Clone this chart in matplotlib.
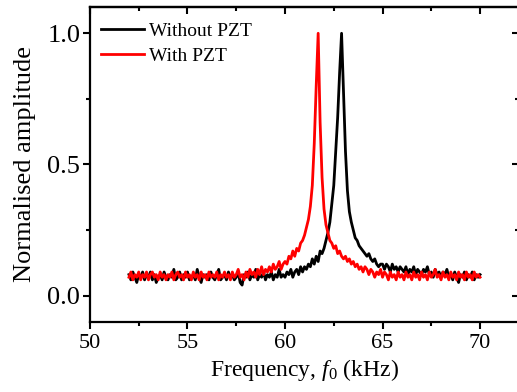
import numpy as np
import matplotlib
matplotlib.use("Agg")
import matplotlib.pyplot as plt
from matplotlib.ticker import MultipleLocator

plt.rcParams['font.family'] = ['Liberation Serif', 'DejaVu Serif']
plt.rcParams['mathtext.fontset'] = 'custom'
plt.rcParams['mathtext.it'] = 'Liberation Serif:italic'
plt.rcParams['mathtext.rm'] = 'Liberation Serif'

# frequency grid (kHz), 52.0 .. 70.0 in 0.1 steps
freq = np.round(np.linspace(52.0, 70.0, 181), 1)

# Without PZT (black)
without_pzt = [
    0.08, 0.06, 0.09, 0.07, 0.05, 0.08, 0.07, 0.09, 0.06, 0.08,
    0.07, 0.09, 0.06, 0.08, 0.05, 0.07, 0.08, 0.06, 0.09, 0.07,
    0.06, 0.08, 0.07, 0.10, 0.06, 0.07, 0.09, 0.06, 0.08, 0.07,
    0.09, 0.06, 0.07, 0.08, 0.06, 0.10, 0.07, 0.05, 0.08, 0.07,
    0.08, 0.06, 0.09, 0.07, 0.06, 0.08, 0.10, 0.06, 0.07, 0.08,
    0.06, 0.09, 0.07, 0.08, 0.06, 0.07, 0.09, 0.05, 0.04, 0.08,
    0.07, 0.09, 0.06, 0.08, 0.07, 0.10, 0.06, 0.08, 0.07, 0.09,
    0.06, 0.08, 0.07, 0.09, 0.06, 0.08, 0.07, 0.10, 0.07, 0.08,
    0.07, 0.09, 0.08, 0.10, 0.07, 0.09, 0.10, 0.08, 0.11, 0.09,
    0.11, 0.10, 0.12, 0.11, 0.14, 0.12, 0.15, 0.13, 0.17, 0.16,
    0.18, 0.21, 0.24, 0.28, 0.35, 0.42, 0.55, 0.68, 0.85, 1.00,
    0.78, 0.55, 0.40, 0.32, 0.28, 0.25, 0.22, 0.21, 0.19, 0.18,
    0.17, 0.16, 0.15, 0.16, 0.14, 0.13, 0.14, 0.12, 0.11, 0.12,
    0.12, 0.10, 0.12, 0.11, 0.09, 0.12, 0.10, 0.11, 0.09, 0.11,
    0.10, 0.09, 0.11, 0.08, 0.10, 0.09, 0.11, 0.08, 0.10, 0.09,
    0.08, 0.10, 0.09, 0.11, 0.08, 0.09, 0.07, 0.10, 0.08, 0.09,
    0.07, 0.09, 0.08, 0.10, 0.07, 0.08, 0.06, 0.09, 0.07, 0.05,
    0.08, 0.07, 0.09, 0.06, 0.08, 0.07, 0.09, 0.06, 0.08, 0.07,
    0.08,
]

# With PZT (red)
with_pzt = [
    0.07, 0.09, 0.06, 0.08, 0.07, 0.09, 0.06, 0.08, 0.07, 0.09,
    0.06, 0.08, 0.09, 0.07, 0.08, 0.06, 0.09, 0.07, 0.08, 0.06,
    0.08, 0.07, 0.09, 0.06, 0.08, 0.09, 0.07, 0.08, 0.06, 0.09,
    0.07, 0.08, 0.06, 0.09, 0.07, 0.08, 0.06, 0.09, 0.07, 0.08,
    0.06, 0.09, 0.07, 0.08, 0.07, 0.09, 0.06, 0.08, 0.07, 0.09,
    0.07, 0.08, 0.06, 0.09, 0.07, 0.08, 0.10, 0.07, 0.08, 0.06,
    0.09, 0.07, 0.10, 0.08, 0.09, 0.07, 0.10, 0.08, 0.11, 0.08,
    0.10, 0.09, 0.11, 0.09, 0.12, 0.10, 0.11, 0.13, 0.10, 0.12,
    0.13, 0.12, 0.15, 0.14, 0.17, 0.15, 0.18, 0.17, 0.20, 0.21,
    0.23, 0.26, 0.29, 0.34, 0.42, 0.58, 0.80, 1.00, 0.66, 0.45,
    0.33, 0.27, 0.24, 0.21, 0.20, 0.18, 0.19, 0.16, 0.17, 0.15,
    0.14, 0.15, 0.13, 0.14, 0.12, 0.13, 0.11, 0.12, 0.10, 0.11,
    0.09, 0.11, 0.10, 0.08, 0.10, 0.09, 0.07, 0.09, 0.08, 0.10,
    0.07, 0.09, 0.08, 0.06, 0.09, 0.07, 0.08, 0.06, 0.09, 0.07,
    0.08, 0.06, 0.09, 0.07, 0.08, 0.06, 0.09, 0.07, 0.08, 0.06,
    0.09, 0.07, 0.08, 0.06, 0.09, 0.07, 0.08, 0.10, 0.07, 0.08,
    0.06, 0.09, 0.07, 0.08, 0.06, 0.09, 0.07, 0.08, 0.06, 0.09,
    0.07, 0.08, 0.06, 0.09, 0.07, 0.08, 0.06, 0.09, 0.07, 0.08,
    0.07,
]

fig = plt.figure(figsize=(5.17, 3.92), dpi=100)
ax = fig.add_axes([0.174, 0.179, 0.830, 0.803])

ax.plot(freq, without_pzt, color='black', lw=2.0, label='Without PZT')
ax.plot(freq, with_pzt, color='red', lw=2.0, label='With PZT')

ax.set_xlim(50, 72)
ax.set_ylim(-0.1, 1.1)
ax.xaxis.set_major_locator(MultipleLocator(5))
ax.xaxis.set_minor_locator(MultipleLocator(2.5))
ax.yaxis.set_major_locator(MultipleLocator(0.5))
ax.yaxis.set_minor_locator(MultipleLocator(0.25))

for s in ax.spines.values():
    s.set_linewidth(1.6)
ax.spines['right'].set_visible(False)   # cropped off in the original
ax.tick_params(which='both', direction='out', top=False, right=False, width=1.5)
ax.tick_params(which='major', length=5)
ax.tick_params(which='minor', length=3)
ax.tick_params(axis='x', labelsize=16)
ax.tick_params(axis='y', labelsize=19, pad=2)

# mirrored ticks pointing inward on top / right
sec_x = ax.secondary_xaxis('top')
sec_x.xaxis.set_major_locator(MultipleLocator(5))
sec_x.xaxis.set_minor_locator(MultipleLocator(2.5))
sec_x.tick_params(which='both', direction='in', width=1.5, labeltop=False)
sec_x.tick_params(which='major', length=5)
sec_x.tick_params(which='minor', length=3)
sec_x.spines['top'].set_linewidth(1.6)
sec_y = ax.secondary_yaxis('right')
sec_y.yaxis.set_major_locator(MultipleLocator(0.5))
sec_y.yaxis.set_minor_locator(MultipleLocator(0.25))
sec_y.tick_params(which='both', direction='in', width=1.5, labelright=False)
sec_y.tick_params(which='major', length=5)
sec_y.tick_params(which='minor', length=3)
for s in sec_y.spines.values():
    s.set_visible(False)

ax.set_xlabel('Frequency, $f_0$ (kHz)', fontsize=17, labelpad=3)
ax.set_ylabel('Normalised amplitude', fontsize=19, labelpad=8)

ax.legend(loc='upper left', bbox_to_anchor=(-0.005, 0.995), frameon=False,
          fontsize=14, handlelength=2.2, handletextpad=0.25,
          borderaxespad=0.3, labelspacing=0.4)

fig.savefig('out.png', dpi=100)
